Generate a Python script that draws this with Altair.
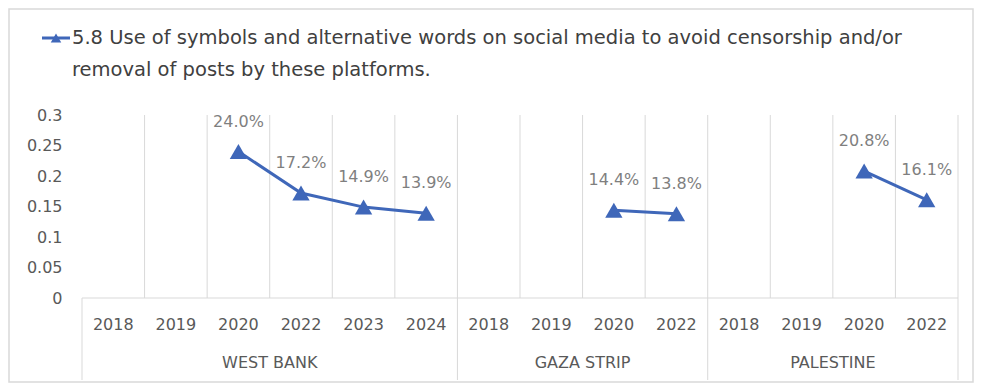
import altair as alt
import pandas as pd

# ---------------- data ----------------
regions = ["WEST BANK", "GAZA STRIP", "PALESTINE"]
years_west_bank = ["2018", "2019", "2020", "2022", "2023", "2024"]
years_gaza = ["2018", "2019", "2020", "2022"]
years_palestine = ["2018", "2019", "2020", "2022"]
values_west_bank = [None, None, 0.240, 0.172, 0.149, 0.139]
values_gaza = [None, None, 0.144, 0.138]
values_palestine = [None, None, 0.208, 0.161]
legend_lines = [
    "5.8 Use of symbols and alternative words on social media to avoid censorship and/or",
    "removal of posts by these platforms.",
]
y_ticks = [0, 0.05, 0.1, 0.15, 0.2, 0.25, 0.3]

# ---------------- build tables ----------------
rows = []
bounds_group = [0]
group_rows = []
i = 0
for reg, yrs, vals in zip(regions,
                          [years_west_bank, years_gaza, years_palestine],
                          [values_west_bank, values_gaza, values_palestine]):
    start = i
    for y, v in zip(yrs, vals):
        rows.append({"region": reg, "year": y, "pos": i + 0.5, "value": v})
        i += 1
    bounds_group.append(i)
    group_rows.append({"region": reg, "center": (start + i) / 2})
n = i
df = pd.DataFrame(rows)
df_pts = df.dropna(subset=["value"])
df_grid = pd.DataFrame({"b": list(range(1, n + 1))})
df_sep = pd.DataFrame({"b": bounds_group})
df_groups = pd.DataFrame(group_rows)
df_one = df_grid.head(1)

W, H = 876, 183
BLUE = "#3F67B9"
GRID = "#d9d9d9"
TXT = "#595959"
FONT = "DejaVu Sans"

xs = alt.Scale(domain=[0, n], nice=False, zero=False)
ys = alt.Scale(domain=[0, 0.3], nice=False, zero=True)
y_axis = alt.Axis(values=y_ticks, format="~g", title=None, domain=False,
                  ticks=False, grid=False, labelFont=FONT, labelFontSize=16,
                  labelColor=TXT, labelPadding=20, labelOverlap=False,
                  labelFlush=False)

grid = alt.Chart(df_grid).mark_rule(color=GRID, strokeWidth=1).encode(
    x=alt.X("b:Q", scale=xs, axis=None),
    y=alt.value(0), y2=alt.value(H),
)
axis_line = alt.Chart(df_one).mark_rule(color=GRID, strokeWidth=1).encode(
    x=alt.value(0), x2=alt.value(W), y=alt.value(H),
)
seps = alt.Chart(df_sep).mark_rule(color=GRID, strokeWidth=1).encode(
    x=alt.X("b:Q", scale=xs, axis=None),
    y=alt.value(H), y2=alt.value(H + 82),
)
year_labels = alt.Chart(df).mark_text(
    font=FONT, fontSize=16, color=TXT, baseline="middle", align="center"
).encode(
    x=alt.X("pos:Q", scale=xs, axis=None),
    y=alt.value(H + 27),
    text="year:N",
)
region_labels = alt.Chart(df_groups).mark_text(
    font=FONT, fontSize=16, color=TXT, baseline="middle", align="center"
).encode(
    x=alt.X("center:Q", scale=xs, axis=None),
    y=alt.value(H + 65),
    text="region:N",
)
line = alt.Chart(df_pts).mark_line(color=BLUE, strokeWidth=3).encode(
    x=alt.X("pos:Q", scale=xs, axis=None),
    y=alt.Y("value:Q", scale=ys, axis=y_axis),
    detail="region:N",
)
points = alt.Chart(df_pts).mark_point(
    shape="triangle-up", filled=True, color=BLUE, size=300, opacity=1
).encode(
    x=alt.X("pos:Q", scale=xs, axis=None),
    y=alt.Y("value:Q", scale=ys, axis=y_axis),
)
labels = alt.Chart(df_pts).mark_text(
    font=FONT, fontSize=16, color="#7f7f7f", baseline="middle", align="center", dy=-30
).encode(
    x=alt.X("pos:Q", scale=xs, axis=None),
    y=alt.Y("value:Q", scale=ys, axis=y_axis),
    text=alt.Text("value:Q", format=".1%"),
)

leg_rule = alt.Chart(df_one).mark_rule(color=BLUE, strokeWidth=3).encode(
    x=alt.value(-40), x2=alt.value(-12), y=alt.value(-77),
)
leg_pt = alt.Chart(df_one).mark_point(
    shape="triangle-up", filled=True, color=BLUE, size=110, opacity=1
).encode(x=alt.value(-26), y=alt.value(-77))
leg_texts = []
for k, txt in enumerate(legend_lines):
    leg_texts.append(
        alt.Chart(pd.DataFrame({"line": [txt]})).mark_text(
            font=FONT, fontSize=19.5, color="#404040", baseline="middle", align="left"
        ).encode(x=alt.value(-10), y=alt.value(-77 + 32 * k), text="line:N")
    )
border = alt.Chart(df_one).mark_rect(
    fill=None, stroke="#d9d9d9", strokeWidth=1.5
).encode(
    x=alt.value(-73), x2=alt.value(W + 15), y=alt.value(-106), y2=alt.value(H + 84),
)

chart = alt.layer(
    border, grid, axis_line, seps, year_labels, region_labels,
    line, points, labels, leg_rule, leg_pt, *leg_texts,
).properties(
    width=W, height=H,
    autosize=alt.AutoSizeParams(type="none"),
    padding={"left": 74, "top": 107, "right": 16, "bottom": 85},
    background="white",
).configure_view(stroke=None)

chart.save("out.html", embed_options={"renderer": "svg", "actions": False})
